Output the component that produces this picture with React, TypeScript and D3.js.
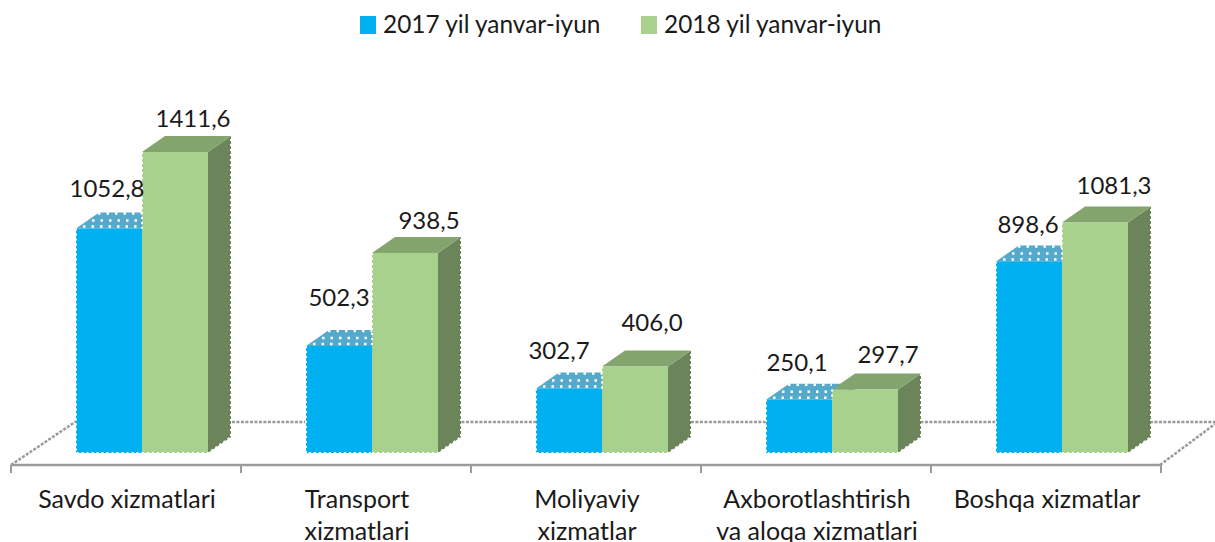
import { useEffect, useRef } from 'react';
import * as d3 from 'd3';

const categories = ['Savdo xizmatlari', 'Transport xizmatlari', 'Moliyaviy xizmatlar', 'Axborotlashtirish va aloqa xizmatlari', 'Boshqa xizmatlar'];
const categoryLines = [['Savdo xizmatlari'], ['Transport', 'xizmatlari'], ['Moliyaviy', 'xizmatlar'], ['Axborotlashtirish', 'va aloqa xizmatlari'], ['Boshqa xizmatlar']];
const values2017 = [1052.8, 502.3, 302.7, 250.1, 898.6];
const values2018 = [1411.6, 938.5, 406.0, 297.7, 1081.3];
const seriesNames = ['2017 yil yanvar-iyun', '2018 yil yanvar-iyun'];
const front = ['#00B0F0', '#A9D18E'];
const top = ['#55AACB', '#84A46E'];
const side = ['#2A86AC', '#6B8459'];

const WIDTH = 1215;
const HEIGHT = 542;
const FONT = 'Lato, "Open Sans", sans-serif';

export default function App() {
  const ref = useRef<SVGSVGElement>(null);
  useEffect(() => {
    if (!ref.current) return;
    document.body.style.margin = '0';
    const svg = d3.select(ref.current);
    svg.selectAll('*').remove();

    const axisY = 465;
    const floorY = 453;
    const dx = 23;
    const dy = 16;
    const x0 = d3.scaleBand().domain(categories).range([11, 1161]);
    const x1 = d3.scaleBand().domain(seriesNames).range([65, 197]);
    const y = d3.scaleLinear().domain([0, 1411.6]).range([floorY, 152]);

    // floor
    const floor = svg.append('g').attr('fill', 'none').attr('stroke', '#9a9a9a');
    floor.append('path').attr('d', 'M11,465 L75,422 L1215,422').attr('stroke-width', 2.5).attr('stroke-dasharray', '3 1.5');
    floor.append('path').attr('d', 'M1160,465 L1215,424').attr('stroke-width', 2.5).attr('stroke-dasharray', '3 1.5');
    floor.append('line').attr('x1', 11).attr('x2', 1161).attr('y1', axisY).attr('y2', axisY).attr('stroke-width', 2.5);
    floor.selectAll('.tick').data([...categories.map(c => x0(c) as number), 1161]).enter().append('line')
      .attr('x1', d => d).attr('x2', d => d).attr('y1', axisY).attr('y2', axisY + 8).attr('stroke-width', 2);

    // bars, blue then green within each group
    const series = [values2017, values2018];
    categories.forEach((c, i) => {
      series.forEach((vals, s) => {
        const left = (x0(c) as number) + (x1(seriesNames[s]) as number);
        const w = x1.bandwidth();
        const yTop = y(vals[i]);
        const g = svg.append('g');
        g.append('path').attr('fill', side[s])
          .attr('d', `M${left + w},${yTop} l${dx},${-dy} L${left + w + dx},${floorY - dy} L${left + w},${floorY} Z`);
        g.append('path').attr('fill', top[s])
          .attr('d', `M${left},${yTop} l${dx},${-dy} h${w} l${-dx},${dy} Z`);
        g.append('rect').attr('x', left).attr('y', yTop).attr('width', w).attr('height', floorY - yTop).attr('fill', front[s]);
        // jagged white dotted edges like the source image
        const dotted = g.append('path').attr('fill', 'none').attr('stroke', '#fff').attr('stroke-width', 2).attr('stroke-dasharray', '2 3');
        if (s === 0) {
          dotted.attr('d', `M${left},${yTop} V${floorY} H${left + w}`);
          g.append('path').attr('fill', 'none').attr('stroke', '#fff').attr('stroke-width', 2.5).attr('stroke-dasharray', '2.5 6')
            .attr('d', `M${left + 7},${yTop - 2} H${left + w} M${left + 16},${yTop - 8} H${left + w} M${left + 22},${yTop - 15} H${left + w}`);
        } else {
          const blueTop = y(series[0][i]);
          dotted.attr('d', `M${left},${yTop} V${blueTop} M${left},${floorY} H${left + w} l${dx},${-dy} V${yTop - dy}`);
        }
      });
    });

    // value labels, nudged by hand since the source places them loosely
    const blueDx = [96, 98, 88, 96, 97];
    const blueDy = [32, 40, 29, 29, 28];
    const greenDx = [182, 188, 181, 187, 183];
    const greenDy = [25, 24, 35, 27, 28];
    const labels = svg.append('g').attr('font-family', FONT).attr('font-size', 24).attr('fill', '#1a1a1a').attr('text-anchor', 'middle');
    const fmt = (v: number) => v.toFixed(1).replace('.', ',');
    categories.forEach((c, i) => {
      const b = x0(c) as number;
      labels.append('text').attr('x', b + blueDx[i]).attr('y', y(values2017[i]) - blueDy[i]).text(fmt(values2017[i]));
      labels.append('text').attr('x', b + greenDx[i]).attr('y', y(values2018[i]) - greenDy[i]).text(fmt(values2018[i]));
    });

    // category labels
    const cats = svg.append('g').attr('font-family', FONT).attr('font-size', 25).attr('fill', '#1a1a1a').attr('text-anchor', 'middle');
    categories.forEach((c, i) => {
      categoryLines[i].forEach((line, j) => {
        cats.append('text').attr('x', (x0(c) as number) + x0.bandwidth() / 2 + 1).attr('y', 508 + j * 32).text(line);
      });
    });

    // legend
    const legend = svg.append('g').attr('font-family', FONT).attr('font-size', 24.4).attr('fill', '#1a1a1a');
    [360, 641].forEach((lx, s) => {
      legend.append('rect').attr('x', lx).attr('y', 16).attr('width', 16).attr('height', 18).attr('fill', front[s]);
      legend.append('text').attr('x', lx + 23).attr('y', 33).text(seriesNames[s]);
    });
  }, []);
  return <svg ref={ref} width={WIDTH} height={HEIGHT} style={{ display: 'block', background: '#fff' }} />;
}
